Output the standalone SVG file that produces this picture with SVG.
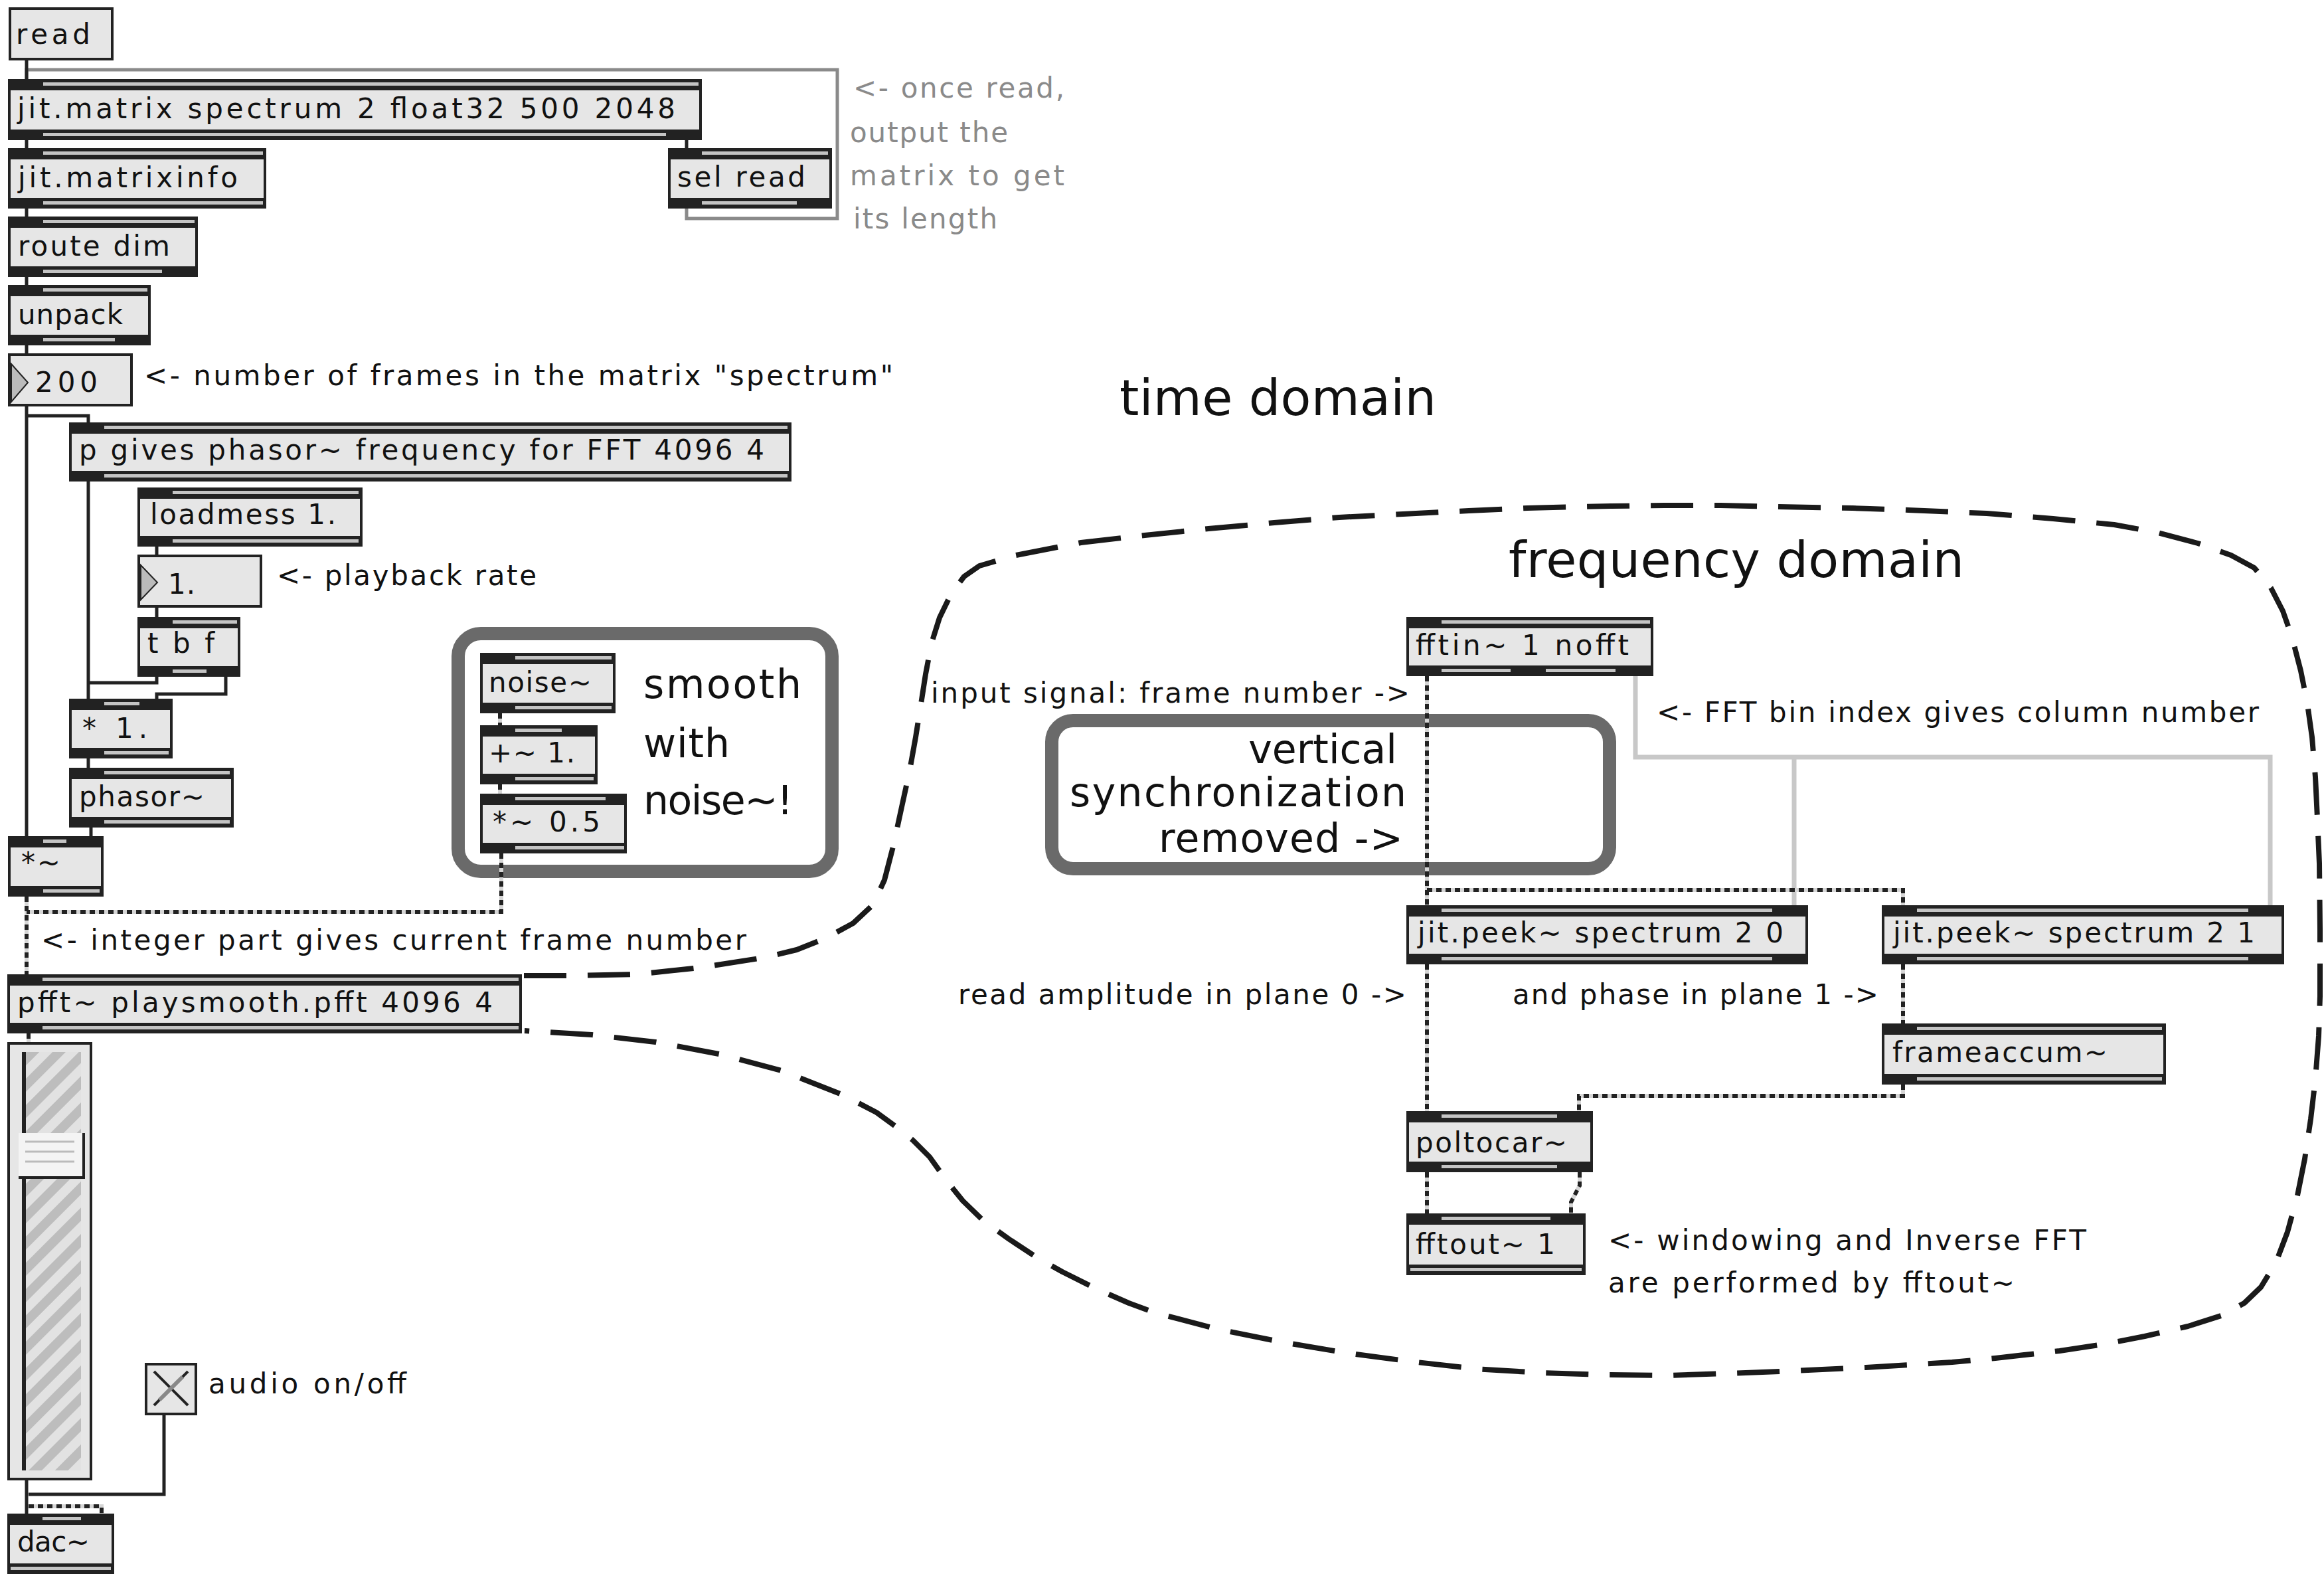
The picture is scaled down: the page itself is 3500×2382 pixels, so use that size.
<svg xmlns="http://www.w3.org/2000/svg" width="3500" height="2382" viewBox="0 0 3500 2382">
<style>
.box{fill:#e6e6e6;stroke:#222;stroke-width:4}
.bar{fill:#222}
.str{fill:#c4c4c4}
.t{font-family:"DejaVu Sans","Liberation Sans",sans-serif;font-size:42px;fill:#111}
.gt{font-family:"DejaVu Sans","Liberation Sans",sans-serif;font-size:42px;fill:#8a8a8a}
.big{font-family:"DejaVu Sans","Liberation Sans",sans-serif;font-size:60px;fill:#111}
.huge{font-family:"DejaVu Sans","Liberation Sans",sans-serif;font-size:75px;fill:#111}
.ctl{fill:none;stroke:#222;stroke-width:5}
.gray{fill:none;stroke:#8a8a8a;stroke-width:5}
.light{fill:none;stroke:#c8c8c8;stroke-width:7}
.sigbg{fill:none;stroke:#d6d6d6;stroke-width:6}
.sig{fill:none;stroke:#222;stroke-width:6;stroke-dasharray:8 6}
.frame{fill:none;stroke:#6a6a6a;stroke-width:20}
.curve{fill:none;stroke:#1a1a1a;stroke-width:8;stroke-dasharray:64 32;stroke-linejoin:round}
</style>
<defs>
<pattern id="hatch" width="28" height="28" patternUnits="userSpaceOnUse" patternTransform="rotate(45)">
<rect width="28" height="28" fill="#e2e2e2"/>
<rect width="14" height="28" fill="#bdbdbd"/>
</pattern>
</defs>
<rect width="3500" height="2382" fill="#fff"/>

<!-- comment frames -->
<g id="frames">
<rect class="frame" x="690" y="954" width="563" height="358" rx="34"/>
<rect class="frame" x="1584" y="1085" width="840" height="223" rx="32"/>
</g>

<!-- domain boundary -->
<path id="domain-boundary" class="curve" d="M789 1469 L860 1469 L959 1467 L1054 1457 L1150 1442 L1200 1430 L1245 1412 L1285 1390 L1315 1362 L1332 1325 L1345 1275 L1358 1215 L1370 1160 L1379 1110 L1387 1060 L1394 1015 L1403 968 L1415 930 L1432 895 L1452 868 L1475 852 L1530 836 L1628 817 L1724 806 L1820 796 L1919 787 L2017 779 L2113 774 L2212 769 L2300 765 L2426 762 L2507 761 L2591 761 L2679 763 L2790 765 L2874 768 L2992 773 L3092 781 L3184 790 L3250 802 L3310 818 L3360 836 L3395 855 L3420 885 L3438 920 L3452 960 L3465 1010 L3475 1060 L3482 1110 L3487 1170 L3490 1232 L3493 1300 L3494 1400 L3494 1500 L3492 1560 L3487 1625 L3480 1685 L3471 1745 L3460 1800 L3445 1855 L3428 1900 L3405 1938 L3380 1962 L3345 1981 L3295 1997 L3230 2012 L3168 2024 L3102 2034 L3005 2045 L2940 2051 L2876 2055 L2810 2059 L2744 2062 L2680 2065 L2600 2068 L2515 2071 L2418 2070 L2320 2067 L2222 2061 L2125 2050 L2027 2037 L1932 2021 L1837 2002 L1741 1977 L1700 1962 L1650 1940 L1600 1915 L1561 1893 L1520 1866 L1481 1838 L1450 1808 L1425 1777 L1400 1742 L1375 1717 L1350 1697 L1320 1675 L1268 1648 L1177 1612 L1083 1587 L987 1569 L891 1558 L790 1552"/>

<!-- connectors -->
<g id="connectors">
<path class="gray" d="M1034 314 V329 H1261 V105 H40 V119"/>
<path class="ctl" d="M40 91 V119"/>
<path class="ctl" d="M40 211 V223"/>
<path class="ctl" d="M1034 211 V223"/>
<path class="ctl" d="M40 314 V326"/>
<path class="ctl" d="M40 417 V429"/>
<path class="ctl" d="M40 520 V532"/>
<path class="ctl" d="M40 612 V1259"/>
<path class="ctl" d="M40 626 H133 V636"/>
<path class="ctl" d="M133 725 V1052"/>
<path class="ctl" d="M236 823 V835"/>
<path class="ctl" d="M236 915 V929"/>
<path class="ctl" d="M236 1019 V1028 H133"/>
<path class="ctl" d="M340 1019 V1045 H236 V1052"/>
<path class="ctl" d="M133 1142 V1156"/>
<path class="ctl" d="M137 1246 V1259"/>
<path class="ctl" d="M40 2229 V2279"/>
<path class="ctl" d="M247 2131 V2250 H43"/>
<path class="light" d="M2463 1018 V1140 H3419 V1363"/>
<path class="light" d="M2702 1140 V1363"/>
<g class="sigbg">
<path d="M40 1350 V1467"/><path d="M755 1285 V1373 H40"/><path d="M753 1074 V1092"/><path d="M753 1181 V1195"/>
<path d="M43 1556 V1569"/><path d="M43 2268 H153 V2279"/>
<path d="M2149 1018 V1363"/><path d="M2149 1340 H2866 V1363"/><path d="M2149 1452 V1673"/><path d="M2866 1452 V1541"/>
<path d="M2866 1633 V1650 H2378 V1673"/><path d="M2149 1765 V1827"/><path d="M2379 1765 V1785 L2366 1810 V1827"/>
</g>
<g class="sig">
<path d="M40 1350 V1467"/><path d="M755 1285 V1373 H40"/><path d="M753 1074 V1092"/><path d="M753 1181 V1195"/>
<path d="M43 1556 V1569"/><path d="M43 2268 H153 V2279"/>
<path d="M2149 1018 V1363"/><path d="M2149 1340 H2866 V1363"/><path d="M2149 1452 V1673"/><path d="M2866 1452 V1541"/>
<path d="M2866 1633 V1650 H2378 V1673"/><path d="M2149 1765 V1827"/><path d="M2379 1765 V1785 L2366 1810 V1827"/>
</g>
</g>

<!-- nodes -->
<g id="read">
<rect class="box" x="15" y="13" width="154" height="76"/>
<text class="t" x="24" y="66" textLength="112" lengthAdjust="spacing">read</text>
</g>
<g id="jit-matrix">
<rect class="box" x="14" y="121" width="1041" height="88"/>
<rect class="bar" x="12" y="119" width="1045" height="17"/><rect class="bar" x="12" y="195" width="1045" height="16"/>
<rect class="str" x="65" y="124" width="987" height="5"/><rect class="str" x="65" y="200" width="938" height="5"/>
<text class="t" x="26" y="178" textLength="991" lengthAdjust="spacing">jit.matrix spectrum 2 float32 500 2048</text>
</g>
<g id="jit-matrixinfo">
<rect class="box" x="14" y="225" width="385" height="87"/>
<rect class="bar" x="12" y="223" width="389" height="17"/><rect class="bar" x="12" y="298" width="389" height="16"/>
<rect class="str" x="65" y="228" width="331" height="5"/><rect class="str" x="65" y="303" width="331" height="5"/>
<text class="t" x="27" y="282" textLength="331" lengthAdjust="spacing">jit.matrixinfo</text>
</g>
<g id="sel-read">
<rect class="box" x="1008" y="225" width="243" height="87"/>
<rect class="bar" x="1006" y="223" width="247" height="17"/><rect class="bar" x="1006" y="298" width="247" height="16"/>
<rect class="str" x="1057" y="228" width="190" height="5"/><rect class="str" x="1057" y="303" width="143" height="5"/>
<text class="t" x="1020" y="281" textLength="193" lengthAdjust="spacing">sel read</text>
</g>
<g id="route-dim">
<rect class="box" x="14" y="328" width="282" height="87"/>
<rect class="bar" x="12" y="326" width="286" height="17"/><rect class="bar" x="12" y="401" width="286" height="16"/>
<rect class="str" x="65" y="331" width="228" height="5"/><rect class="str" x="65" y="406" width="179" height="5"/>
<text class="t" x="27" y="385" textLength="229" lengthAdjust="spacing">route dim</text>
</g>
<g id="unpack">
<rect class="box" x="14" y="431" width="211" height="87"/>
<rect class="bar" x="12" y="429" width="215" height="17"/><rect class="bar" x="12" y="504" width="215" height="16"/>
<rect class="str" x="65" y="434" width="157" height="5"/><rect class="str" x="65" y="509" width="108" height="5"/>
<text class="t" x="27" y="488" textLength="158" lengthAdjust="spacing">unpack</text>
</g>
<g id="num-200">
<rect class="box" x="14" y="534" width="184" height="76"/>
<polygon points="17,548 42,576 17,605" fill="#bbb" stroke="#222" stroke-width="2"/>
<text class="t" x="53" y="590" textLength="94" lengthAdjust="spacing">200</text>
</g>
<g id="p-gives">
<rect class="box" x="106" y="638" width="1084" height="85"/>
<rect class="bar" x="104" y="636" width="1088" height="17"/><rect class="bar" x="104" y="709" width="1088" height="16"/>
<rect class="str" x="157" y="641" width="1029" height="5"/><rect class="str" x="157" y="714" width="1029" height="5"/>
<text class="t" x="119" y="692" textLength="1032" lengthAdjust="spacing">p gives phasor~ frequency for FFT 4096 4</text>
</g>
<g id="loadmess">
<rect class="box" x="209" y="736" width="335" height="85"/>
<rect class="bar" x="207" y="734" width="339" height="17"/><rect class="bar" x="207" y="807" width="339" height="16"/>
<rect class="str" x="260" y="739" width="280" height="5"/><rect class="str" x="260" y="812" width="280" height="5"/>
<text class="t" x="226" y="789" textLength="280" lengthAdjust="spacing">loadmess 1.</text>
</g>
<g id="num-rate">
<rect class="box" x="209" y="837" width="184" height="76"/>
<polygon points="212,851 237,877 212,903" fill="#bbb" stroke="#222" stroke-width="2"/>
<text class="t" x="253" y="894" textLength="41" lengthAdjust="spacing">1.</text>
</g>
<g id="tbf">
<rect class="box" x="209" y="931" width="151" height="86"/>
<rect class="bar" x="207" y="929" width="155" height="17"/><rect class="bar" x="207" y="1003" width="155" height="16"/>
<rect class="str" x="260" y="934" width="97" height="5"/><rect class="str" x="260" y="1008" width="51" height="5"/>
<text class="t" x="222" y="983" textLength="101" lengthAdjust="spacing">t b f</text>
</g>
<g id="mul-1">
<rect class="box" x="106" y="1054" width="152" height="86"/>
<rect class="bar" x="104" y="1052" width="156" height="17"/><rect class="bar" x="104" y="1126" width="156" height="16"/>
<rect class="str" x="157" y="1057" width="53" height="5"/><rect class="str" x="157" y="1131" width="97" height="5"/>
<text class="t" x="124" y="1111" textLength="98" lengthAdjust="spacing">* 1.</text>
</g>
<g id="phasor">
<rect class="box" x="106" y="1158" width="244" height="86"/>
<rect class="bar" x="104" y="1156" width="248" height="17"/><rect class="bar" x="104" y="1230" width="248" height="16"/>
<rect class="str" x="157" y="1161" width="189" height="5"/><rect class="str" x="157" y="1235" width="189" height="5"/>
<text class="t" x="119" y="1214" textLength="189" lengthAdjust="spacing">phasor~</text>
</g>
<g id="mul-sig">
<rect class="box" x="14" y="1261" width="140" height="87"/>
<rect class="bar" x="12" y="1259" width="144" height="17"/><rect class="bar" x="12" y="1334" width="144" height="16"/>
<rect class="str" x="65" y="1264" width="35" height="5"/><rect class="str" x="65" y="1339" width="85" height="5"/>
<text class="t" x="32" y="1313" textLength="59" lengthAdjust="spacing">*~</text>
</g>
<g id="noise">
<rect class="box" x="725" y="985" width="200" height="87"/>
<rect class="bar" x="723" y="983" width="204" height="17"/><rect class="bar" x="723" y="1058" width="204" height="16"/>
<rect class="str" x="776" y="988" width="145" height="5"/><rect class="str" x="776" y="1063" width="145" height="5"/>
<text class="t" x="736" y="1042" textLength="155" lengthAdjust="spacing">noise~</text>
</g>
<g id="add-1">
<rect class="box" x="725" y="1094" width="173" height="85"/>
<rect class="bar" x="723" y="1092" width="177" height="17"/><rect class="bar" x="723" y="1165" width="177" height="16"/>
<rect class="str" x="776" y="1097" width="70" height="5"/><rect class="str" x="776" y="1170" width="118" height="5"/>
<text class="t" x="736" y="1148" textLength="130" lengthAdjust="spacing">+~ 1.</text>
</g>
<g id="mul-05">
<rect class="box" x="725" y="1197" width="217" height="86"/>
<rect class="bar" x="723" y="1195" width="221" height="17"/><rect class="bar" x="723" y="1269" width="221" height="16"/>
<rect class="str" x="776" y="1200" width="136" height="5"/><rect class="str" x="776" y="1274" width="164" height="5"/>
<text class="t" x="742" y="1252" textLength="162" lengthAdjust="spacing">*~ 0.5</text>
</g>
<g id="pfft">
<rect class="box" x="13" y="1469" width="771" height="85"/>
<rect class="bar" x="11" y="1467" width="775" height="17"/><rect class="bar" x="11" y="1540" width="775" height="16"/>
<rect class="str" x="64" y="1472" width="717" height="5"/><rect class="str" x="64" y="1545" width="717" height="5"/>
<text class="t" x="26" y="1524" textLength="716" lengthAdjust="spacing">pfft~ playsmooth.pfft 4096 4</text>
</g>
<g id="gain-slider">
<rect class="box" x="13" y="1571" width="124" height="656"/>
<rect x="33" y="1584" width="89" height="630" fill="url(#hatch)"/>
<rect x="33" y="1584" width="6" height="630" fill="#222"/>
<rect x="28" y="1706" width="98" height="65" fill="#f4f4f4"/>
<path d="M126 1706 V1773 H28" fill="none" stroke="#222" stroke-width="4"/>
<path d="M38 1719 H112 M38 1734 H112 M38 1749 H112" stroke="#bbb" stroke-width="3"/>
</g>
<g id="toggle">
<rect class="box" x="220" y="2054" width="75" height="75"/>
<path d="M232 2065 L283 2116 M283 2065 L232 2116" stroke="#222" stroke-width="4"/>
<path d="M240 2108 L275 2073" stroke="#888" stroke-width="6"/>
</g>
<g id="dac">
<rect class="box" x="13" y="2281" width="157" height="87"/>
<rect class="bar" x="11" y="2279" width="161" height="17"/><rect class="bar" x="11" y="2354" width="161" height="16"/>
<rect class="str" x="64" y="2284" width="58" height="5"/><rect class="str" x="16" y="2359" width="151" height="5"/>
<text class="t" x="26" y="2336" textLength="109" lengthAdjust="spacing">dac~</text>
</g>
<g id="fftin">
<rect class="box" x="2120" y="931" width="368" height="85"/>
<rect class="bar" x="2118" y="929" width="372" height="17"/><rect class="bar" x="2118" y="1002" width="372" height="16"/>
<rect class="str" x="2171" y="934" width="314" height="5"/>
<rect class="str" x="2171" y="1007" width="104" height="5"/><rect class="str" x="2328" y="1007" width="105" height="5"/>
<text class="t" x="2132" y="986" textLength="321" lengthAdjust="spacing">fftin~ 1 nofft</text>
</g>
<g id="jit-peek-0">
<rect class="box" x="2120" y="1365" width="601" height="85"/>
<rect class="bar" x="2118" y="1363" width="605" height="17"/><rect class="bar" x="2118" y="1436" width="605" height="16"/>
<rect class="str" x="2171" y="1368" width="498" height="5"/><rect class="str" x="2171" y="1441" width="498" height="5"/>
<text class="t" x="2135" y="1419" textLength="551" lengthAdjust="spacing">jit.peek~ spectrum 2 0</text>
</g>
<g id="jit-peek-1">
<rect class="box" x="2836" y="1365" width="602" height="85"/>
<rect class="bar" x="2834" y="1363" width="606" height="17"/><rect class="bar" x="2834" y="1436" width="606" height="16"/>
<rect class="str" x="2887" y="1368" width="499" height="5"/><rect class="str" x="2887" y="1441" width="499" height="5"/>
<text class="t" x="2851" y="1419" textLength="545" lengthAdjust="spacing">jit.peek~ spectrum 2 1</text>
</g>
<g id="frameaccum">
<rect class="box" x="2836" y="1543" width="424" height="88"/>
<rect class="bar" x="2834" y="1541" width="428" height="17"/><rect class="bar" x="2834" y="1617" width="428" height="16"/>
<rect class="str" x="2887" y="1546" width="369" height="5"/><rect class="str" x="2887" y="1622" width="369" height="5"/>
<text class="t" x="2850" y="1599" textLength="324" lengthAdjust="spacing">frameaccum~</text>
</g>
<g id="poltocar">
<rect class="box" x="2120" y="1675" width="277" height="88"/>
<rect class="bar" x="2118" y="1673" width="281" height="17"/><rect class="bar" x="2118" y="1749" width="281" height="16"/>
<rect class="str" x="2171" y="1678" width="174" height="5"/><rect class="str" x="2171" y="1754" width="174" height="5"/>
<text class="t" x="2132" y="1735" textLength="228" lengthAdjust="spacing">poltocar~</text>
</g>
<g id="fftout">
<rect class="box" x="2120" y="1829" width="266" height="89"/>
<rect class="bar" x="2118" y="1827" width="270" height="17"/><rect class="bar" x="2118" y="1904" width="270" height="16"/>
<rect class="str" x="2171" y="1832" width="164" height="5"/><rect class="str" x="2124" y="1909" width="258" height="5"/>
<text class="t" x="2132" y="1888" textLength="210" lengthAdjust="spacing">fftout~ 1</text>
</g>

<!-- comments -->
<g id="comments">
<text class="gt" x="1285" y="147" textLength="318" lengthAdjust="spacing">&lt;- once read,</text>
<text class="gt" x="1280" y="214" textLength="238" lengthAdjust="spacing">output the</text>
<text class="gt" x="1280" y="279" textLength="323" lengthAdjust="spacing">matrix to get</text>
<text class="gt" x="1285" y="344" textLength="217" lengthAdjust="spacing">its length</text>
<text class="t" x="217" y="580" textLength="1128" lengthAdjust="spacing">&lt;- number of frames in the matrix "spectrum"</text>
<text class="t" x="417" y="881" textLength="391" lengthAdjust="spacing">&lt;- playback rate</text>
<text class="big" x="969" y="1051" textLength="238" lengthAdjust="spacing">smooth</text>
<text class="big" x="969" y="1140" textLength="130" lengthAdjust="spacing">with</text>
<text class="big" x="969" y="1226" textLength="225" lengthAdjust="spacing">noise~!</text>
<text class="t" x="62" y="1430" textLength="1062" lengthAdjust="spacing">&lt;- integer part gives current frame number</text>
<text class="t" x="314" y="2098" textLength="298" lengthAdjust="spacing">audio on/off</text>
<text class="huge" x="1686" y="625" textLength="477" lengthAdjust="spacing">time domain</text>
<text class="huge" x="2272" y="869" textLength="686" lengthAdjust="spacing">frequency domain</text>
<text class="t" x="1402" y="1058" textLength="721" lengthAdjust="spacing">input signal: frame number -&gt;</text>
<text class="t" x="2495" y="1087" textLength="907" lengthAdjust="spacing">&lt;- FFT bin index gives column number</text>
<text class="big" x="2104" y="1149" text-anchor="end">vertical</text>
<text class="big" x="1611" y="1214" textLength="507" lengthAdjust="spacing">synchronization</text>
<text class="big" x="1745" y="1283" textLength="368" lengthAdjust="spacing">removed -&gt;</text>
<text class="t" x="1443" y="1512" textLength="675" lengthAdjust="spacing">read amplitude in plane 0 -&gt;</text>
<text class="t" x="2278" y="1512" textLength="551" lengthAdjust="spacing">and phase in plane 1 -&gt;</text>
<text class="t" x="2422" y="1882" textLength="720" lengthAdjust="spacing">&lt;- windowing and Inverse FFT</text>
<text class="t" x="2422" y="1946" textLength="612" lengthAdjust="spacing">are performed by fftout~</text>
</g>
</svg>
